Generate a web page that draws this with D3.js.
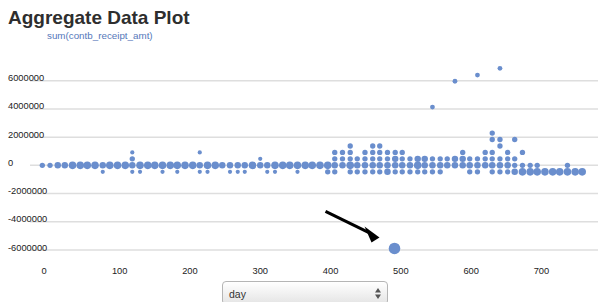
<!DOCTYPE html>
<html>
<head>
<meta charset="utf-8">
<script src="https://cdn.jsdelivr.net/npm/d3@7"></script>
<style>
  body { margin: 0; background: #fff; font-family: "Liberation Sans", Arial, sans-serif; }
  #chart { position: absolute; left: 0; top: 0; }
  #picker {
    position: absolute; left: 222px; top: 281px; width: 166px; height: 24px;
    border: 1px solid #b5b5b5; border-radius: 4px;
    background: linear-gradient(#ffffff, #e4e4e4);
    font-size: 10.5px; color: #333; box-sizing: border-box;
  }
  #picker span { position: absolute; left: 6px; top: 6px; }
</style>
</head>
<body>
<div id="chart"></div>
<div id="picker"><span>day</span><svg width="10" height="14" style="position:absolute;right:4px;top:5px"><path d="M5 1 L8 5.5 L2 5.5 Z M5 12 L8 7.5 L2 7.5 Z" fill="#555"/></svg></div>
<script>
// bin centres on the x axis (days)
var days = [1, 12, 23, 33, 44, 55, 65, 76, 87, 97, 108, 119, 129, 140, 151, 161, 172, 183, 193, 204,
  215, 225, 236, 247, 257, 268, 279, 289, 300, 311, 321, 332, 343, 353, 364, 375, 385, 396, 407, 417,
  428, 439, 449, 460, 471, 481, 492, 503, 513, 524, 535, 545, 556, 567, 577, 588, 599, 609, 620, 631,
  641, 652, 663, 673, 684, 695, 705, 716, 727, 737, 748, 759, 769];

// value bins (rows), bottom to top
var rowValues = [-460000, 0, 460000, 915000, 1370000, 1830000, 2290000];

// per day bin: dot size for each row (0 = no dot), same order as rowValues
var cells = [
  "0200000", "0200000", "0300000", "0300000", "0400000", "0400000", "0400000", "0400000", "1300000", "0400000",
  "0400000", "0400000", "1321000", "1400000", "0400000", "0400000", "1400000", "0400000", "1400000", "0400000",
  "0400000", "1301000", "1400000", "0400000", "0300000", "1300000", "1300000", "1300000", "0400000", "0310000",
  "1300000", "1400000", "0400000", "0400000", "1400000", "0400000", "0400000", "0400000", "2400000", "2322000",
  "0322000", "2422200", "2320000", "2322000", "2322200", "2322200", "3322000", "2332000", "2322000", "2320000",
  "2430000", "2330000", "2320000", "2320000", "0320000", "0330000", "0332000", "2320000", "2320000", "0322000",
  "2322022", "2320220", "2322000", "3220020", "4202000", "4200000", "4200000", "4000000", "4000000", "4000000",
  "4200000", "4000000", "4000000"
];

// isolated aggregates
var outlierDays = [556, 588, 620, 652];
var outlierValues = [4130000, 5960000, 6400000, 6880000];
var bigDay = 502;
var bigValue = -5890000;

var yTicks = [-6000000, -4000000, -2000000, 0, 2000000, 4000000, 6000000];
var xTicks = [0, 100, 200, 300, 400, 500, 600, 700];

var width = 598, height = 302;
var dotColor = "#6a8ecd";

var svg = d3.select("#chart").append("svg")
  .attr("width", width)
  .attr("height", height);

var x = d3.scaleLinear().domain([0, 700]).range([41.6, 533.7]);
var y = d3.scaleLinear().domain([-6000000, 6000000]).range([250, 80.7]);
var r = d3.scaleLinear().domain([1, 4]).range([2.1, 3.8]);

svg.append("text")
  .attr("x", 8).attr("y", 24)
  .attr("font-size", 19).attr("font-weight", "bold")
  .attr("fill", "#2e2e2e")
  .text("Aggregate Data Plot");

svg.append("text")
  .attr("x", 47).attr("y", 39)
  .attr("font-size", 9.8)
  .attr("fill", "#5578ba")
  .text("sum(contb_receipt_amt)");

// grid + y labels
var grid = svg.append("g");
grid.selectAll("line")
  .data(yTicks)
  .enter().append("line")
  .attr("x1", 30).attr("x2", width)
  .attr("y1", function(d) { return y(d); })
  .attr("y2", function(d) { return y(d); })
  .attr("stroke", "#dedede").attr("stroke-width", 1.5);

grid.selectAll("text")
  .data(yTicks)
  .enter().append("text")
  .attr("x", 8)
  .attr("y", function(d) { return y(d) + 0.5; })
  .attr("font-size", 9.3).attr("fill", "#222")
  .text(function(d) { return d; });

svg.append("g").selectAll("text")
  .data(xTicks)
  .enter().append("text")
  .attr("x", function(d) { return x(d); })
  .attr("y", 273.5)
  .attr("font-size", 9.3).attr("fill", "#222")
  .text(function(d) { return d; });

// flatten the cells into dots
var dots = [];
cells.forEach(function(code, i) {
  code.split("").forEach(function(c, j) {
    if (+c > 0) dots.push({day: days[i], value: rowValues[j], size: +c});
  });
});

svg.append("g").selectAll("circle")
  .data(dots)
  .enter().append("circle")
  .attr("cx", function(d) { return x(d.day); })
  .attr("cy", function(d) { return y(d.value); })
  .attr("r", function(d) { return r(d.size); })
  .attr("fill", dotColor);

svg.append("g").selectAll("circle")
  .data(outlierDays)
  .enter().append("circle")
  .attr("cx", function(d) { return x(d); })
  .attr("cy", function(d, i) { return y(outlierValues[i]); })
  .attr("r", 2.4)
  .attr("fill", dotColor);

var bx = x(bigDay), by = y(bigValue);
svg.append("circle")
  .attr("cx", bx).attr("cy", by).attr("r", 5.8)
  .attr("fill", dotColor);

// annotation arrow pointing at the big dot
svg.append("line")
  .attr("x1", bx - 69).attr("y1", by - 37)
  .attr("x2", bx - 24).attr("y2", by - 15)
  .attr("stroke", "#000").attr("stroke-width", 3);
svg.append("path")
  .attr("d", "M" + (bx - 15) + "," + (by - 11) +
    "L" + (bx - 30) + "," + (by - 22) +
    "L" + (bx - 23) + "," + (by - 6) + "Z")
  .attr("fill", "#000");
</script>
</body>
</html>
